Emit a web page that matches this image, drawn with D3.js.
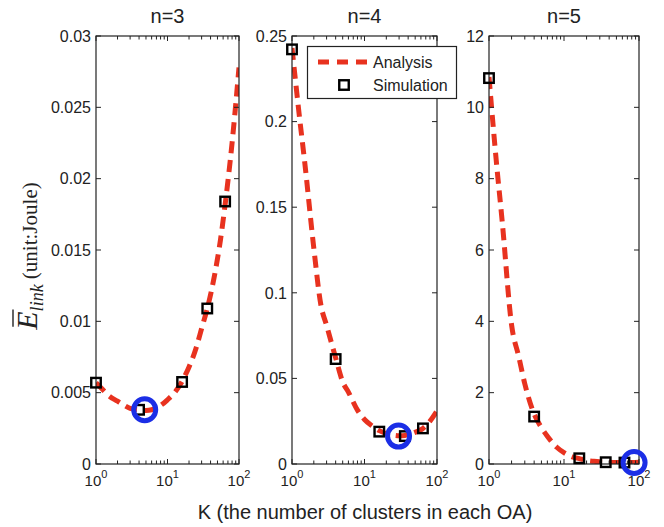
<!DOCTYPE html>
<html><head><meta charset="utf-8">
<script src="https://cdn.jsdelivr.net/npm/d3@7"></script>
<style>body{margin:0;background:#fff}</style>
</head><body>
<svg id="c" width="664" height="527" xmlns="http://www.w3.org/2000/svg"></svg>
<script>
// ---------------- data ----------------
const panelTitles = ["n=3", "n=4", "n=5"];
const simK = [1, 4, 16, 36, 64];
const simN3 = [0.0057, 0.0038, 0.00575, 0.0109, 0.0184];
const simN4 = [0.2422, 0.0613, 0.0189, 0.0163, 0.0208];
const simN5 = [10.82, 1.33, 0.16, 0.05, 0.04];
const analysisK = [1, 1.25, 1.5, 2, 2.5, 3, 4, 5, 6, 8, 10, 13, 16, 20, 25, 30, 36, 45, 55, 64, 80, 100];
const anaN3 = [0.0057, 0.0052, 0.0048, 0.0044, 0.0041, 0.0039, 0.0038, 0.00375, 0.0038, 0.0041, 0.0045, 0.0051, 0.0058, 0.0068, 0.0081, 0.0095, 0.0109, 0.0131, 0.0157, 0.0182, 0.0225, 0.0278];
const anaN4 = [0.243, 0.205, 0.176, 0.126, 0.093, 0.081, 0.062, 0.048, 0.042, 0.0315, 0.026, 0.022, 0.0195, 0.0178, 0.0168, 0.0165, 0.0167, 0.0178, 0.0193, 0.0208, 0.025, 0.031];
const anaN5 = [10.85, 8.5, 6.8, 3.9, 3.0, 2.25, 1.4, 1.02, 0.78, 0.47, 0.32, 0.2, 0.15, 0.1, 0.075, 0.06, 0.05, 0.045, 0.04, 0.04, 0.04, 0.05];
const optK = [4.8, 29.5, 86];
const optE = [0.0038, 0.0163, 0.04];
const yMax = [0.03, 0.25, 12];
const yTicksN3 = [0, 0.005, 0.01, 0.015, 0.02, 0.025, 0.03];
const yLabelsN3 = ["0", "0.005", "0.01", "0.015", "0.02", "0.025", "0.03"];
const yTicksN4 = [0, 0.05, 0.1, 0.15, 0.2, 0.25];
const yLabelsN4 = ["0", "0.05", "0.1", "0.15", "0.2", "0.25"];
const yTicksN5 = [0, 2, 4, 6, 8, 10, 12];
const yLabelsN5 = ["0", "2", "4", "6", "8", "10", "12"];
const xTicks = [1, 10, 100];
const xTickExp = ["0", "1", "2"];
const legendLabels = ["Analysis", "Simulation"];
const xLabel = "K (the number of clusters in each OA)";

// ---------------- layout ----------------
const panels = [
  {x0: 96, x1: 239, sim: simN3, ana: anaN3, yt: yTicksN3, yl: yLabelsN3},
  {x0: 292, x1: 437, sim: simN4, ana: anaN4, yt: yTicksN4, yl: yLabelsN4},
  {x0: 489, x1: 639, sim: simN5, ana: anaN5, yt: yTicksN5, yl: yLabelsN5}
];
const yTop = 36, yBot = 464;
const RED = "#e8321f", BLUE = "#1b2ee6", AX = "#222";
const SANS = "'Liberation Sans', Arial, Helvetica, sans-serif";
const SERIF = "'Liberation Serif', 'Times New Roman', serif";

const svg = d3.select("#c");
svg.append("rect").attr("width", 664).attr("height", 527).attr("fill", "#fff");
const defs = svg.append("defs");

const minorTicks = [];
[1, 10].forEach(d => { for (let m = 2; m <= 9; m++) minorTicks.push(d * m); });

panels.forEach((p, i) => {
  const x = d3.scaleLog().domain([1, 100]).range([p.x0, p.x1]);
  const y = d3.scaleLinear().domain([0, yMax[i]]).range([yBot, yTop]);
  const g = svg.append("g");
  const clipId = "clip" + i;
  defs.append("clipPath").attr("id", clipId)
    .append("rect").attr("x", p.x0).attr("y", yTop).attr("width", p.x1 - p.x0).attr("height", yBot - yTop);

  // analysis dashed line
  const line = d3.line().x(d => x(d[0])).y(d => y(d[1])).curve(d3.curveMonotoneX);
  g.append("path")
    .datum(analysisK.map((k, j) => [k, p.ana[j]]))
    .attr("d", line)
    .attr("clip-path", `url(#${clipId})`)
    .attr("fill", "none").attr("stroke", RED).attr("stroke-width", 5)
    .attr("stroke-dasharray", "12,7");

  // axes box
  g.append("rect").attr("x", p.x0).attr("y", yTop).attr("width", p.x1 - p.x0).attr("height", yBot - yTop)
    .attr("fill", "none").attr("stroke", AX).attr("stroke-width", 1.2);

  // y ticks (inward both sides)
  p.yt.forEach((v, j) => {
    const yy = y(v);
    g.append("line").attr("x1", p.x0).attr("x2", p.x0 + 5).attr("y1", yy).attr("y2", yy).attr("stroke", AX);
    g.append("line").attr("x1", p.x1).attr("x2", p.x1 - 5).attr("y1", yy).attr("y2", yy).attr("stroke", AX);
    g.append("text").attr("x", p.x0 - 5).attr("y", yy).attr("dy", "0.36em")
      .attr("text-anchor", "end").attr("font-family", SANS).attr("font-size", 16).attr("fill", AX)
      .text(p.yl[j]);
  });

  // x ticks
  xTicks.forEach((v, j) => {
    const xx = x(v);
    g.append("line").attr("x1", xx).attr("x2", xx).attr("y1", yBot).attr("y2", yBot - 5).attr("stroke", AX);
    g.append("line").attr("x1", xx).attr("x2", xx).attr("y1", yTop).attr("y2", yTop + 5).attr("stroke", AX);
    const t = g.append("text").attr("x", xx).attr("y", 486).attr("text-anchor", "middle")
      .attr("font-family", SANS).attr("font-size", 15).attr("fill", AX);
    t.append("tspan").text("10");
    t.append("tspan").attr("dy", -8).attr("font-size", 11).text(xTickExp[j]);
  });
  minorTicks.forEach(v => {
    const xx = x(v);
    g.append("line").attr("x1", xx).attr("x2", xx).attr("y1", yBot).attr("y2", yBot - 3.5).attr("stroke", AX);
    g.append("line").attr("x1", xx).attr("x2", xx).attr("y1", yTop).attr("y2", yTop + 3.5).attr("stroke", AX);
  });

  // simulation markers
  g.selectAll(".sim").data(simK.map((k, j) => [k, p.sim[j]])).enter().append("rect")
    .attr("x", d => x(d[0]) - 4.75).attr("y", d => y(d[1]) - 4.75)
    .attr("width", 9.5).attr("height", 9.5)
    .attr("fill", "none").attr("stroke", "#000").attr("stroke-width", 2.4);

  // optimum circle
  g.append("circle").attr("cx", x(optK[i])).attr("cy", y(optE[i])).attr("r", 11)
    .attr("fill", "none").attr("stroke", BLUE).attr("stroke-width", 5);

  // title
  svg.append("text").attr("x", (p.x0 + p.x1) / 2).attr("y", 23).attr("text-anchor", "middle")
    .attr("font-family", SANS).attr("font-size", 20).attr("fill", AX).text(panelTitles[i]);
});

// legend (in panel 2)
const lg = svg.append("g");
lg.append("rect").attr("x", 307.5).attr("y", 46.5).attr("width", 149).attr("height", 52)
  .attr("fill", "#fff").attr("stroke", AX).attr("stroke-width", 1.2);
lg.append("line").attr("x1", 318).attr("x2", 370).attr("y1", 62).attr("y2", 62)
  .attr("stroke", RED).attr("stroke-width", 5).attr("stroke-dasharray", "11,8");
lg.append("rect").attr("x", 339.25).attr("y", 80.25).attr("width", 9.5).attr("height", 9.5)
  .attr("fill", "none").attr("stroke", "#000").attr("stroke-width", 2.4);
legendLabels.forEach((t, j) => {
  lg.append("text").attr("x", 373).attr("y", 62 + j * 23).attr("dy", "0.36em")
    .attr("font-family", SANS).attr("font-size", 16).attr("fill", AX).text(t);
});

// x label
svg.append("text").attr("x", 365).attr("y", 519).attr("text-anchor", "middle")
  .attr("font-family", SANS).attr("font-size", 20).attr("fill", AX).text(xLabel);

// y label
const yg = svg.append("g").attr("transform", "translate(37,256) rotate(-90)");
const yt = yg.append("text").attr("x", 0).attr("y", 0).attr("text-anchor", "middle")
  .attr("font-family", SERIF).attr("fill", AX);
yt.append("tspan").attr("font-style", "italic").attr("font-size", 30).text("E");
yt.append("tspan").attr("font-style", "italic").attr("font-size", 18).attr("dy", 6).text("link");
yt.append("tspan").attr("font-size", 21).attr("dy", -6).text(" (unit:Joule)");
const ext = yt.node().getExtentOfChar(0);
yg.append("line").attr("x1", ext.x + 3).attr("x2", ext.x + ext.width + 2)
  .attr("y1", -24).attr("y2", -24).attr("stroke", AX).attr("stroke-width", 1.4);
</script>
</body></html>
